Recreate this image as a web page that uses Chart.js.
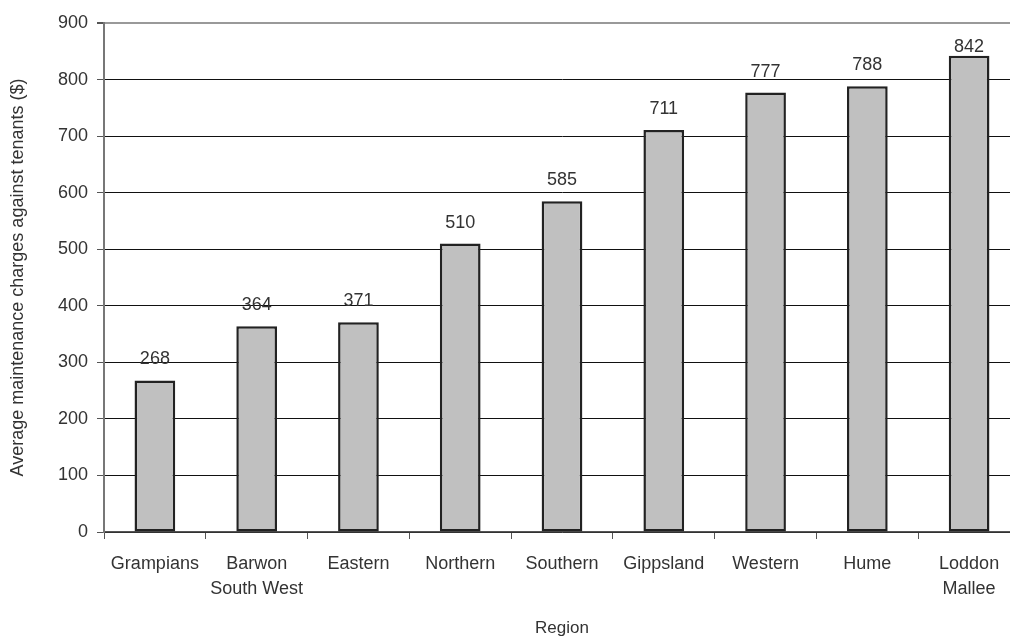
<!DOCTYPE html>
<html>
<head>
<meta charset="utf-8">
<script src="https://cdn.jsdelivr.net/npm/chart.js@4/dist/chart.umd.min.js"></script>
<style>
  html, body { margin: 0; padding: 0; background: #fff; overflow: hidden; }
  #wrap { width: 1020px; height: 640px; }
</style>
</head>
<body>
<div id="wrap"><canvas id="c" width="1020" height="640"></canvas></div>
<script>
const categories = ["Grampians", ["Barwon", "South West"], "Eastern", "Northern", "Southern", "Gippsland", "Western", "Hume", ["Loddon", "Mallee"]];
const charges = [268, 364, 371, 510, 585, 711, 777, 788, 842];
const yTicks = [0, 100, 200, 300, 400, 500, 600, 700, 800, 900];
const yTitle = "Average maintenance charges against tenants ($)";
const xTitle = "Region";

const FONT = "'Liberation Sans', Arial, sans-serif";
const TEXT = '#333333';

const valueLabels = {
  id: 'valueLabels',
  afterDatasetsDraw(chart) {
    const ctx = chart.ctx;
    const meta = chart.getDatasetMeta(0);
    const minBaseline = chart.chartArea.top + 29;
    ctx.save();
    ctx.font = '18px ' + FONT;
    ctx.fillStyle = TEXT;
    ctx.textAlign = 'center';
    ctx.textBaseline = 'alphabetic';
    meta.data.forEach((bar, i) => {
      const yb = Math.max(bar.y - 16, minBaseline);
      ctx.fillText(String(charges[i]), bar.x, yb);
    });
    ctx.restore();
  }
};

new Chart(document.getElementById('c'), {
  type: 'bar',
  data: {
    labels: categories,
    datasets: [{
      data: charges,
      backgroundColor: '#c0c0c0',
      borderColor: '#222222',
      borderWidth: 2.5,
      borderSkipped: false,
      barPercentage: 0.4,
      categoryPercentage: 1.0
    }]
  },
  options: {
    responsive: false,
    animation: false,
    layout: { padding: { top: 23, right: 0, left: 0, bottom: 0 } },
    plugins: {
      legend: { display: false },
      tooltip: { enabled: false }
    },
    scales: {
      x: {
        afterFit(scale) { scale.height = 108; },
        grid: {
          display: true,
          offset: true,
          drawOnChartArea: false,
          drawTicks: true,
          tickLength: 7,
          color: '#555555',
          lineWidth: 1
        },
        border: { display: true, color: '#555555', width: 1.5 },
        ticks: {
          color: TEXT,
          font: { family: FONT, size: 18, lineHeight: 1.42 },
          padding: 12,
          maxRotation: 0,
          autoSkip: false
        },
        title: {
          display: true,
          text: xTitle,
          color: TEXT,
          font: { family: FONT, size: 17 },
          padding: { top: 0, bottom: 1 }
        }
      },
      y: {
        min: 0,
        max: 900,
        afterFit(scale) { scale.width = 104; },
        afterBuildTicks(scale) { scale.ticks = yTicks.map(v => ({ value: v })); },
        grid: {
          color: (c) => c.tick && c.tick.value === 900 ? '#999999' : '#111111',
          lineWidth: (c) => c.tick && c.tick.value === 900 ? 2 : 1,
          tickLength: 7,
          tickColor: '#555555'
        },
        border: { display: true, color: '#777777', width: 2 },
        ticks: {
          color: TEXT,
          font: { family: FONT, size: 18 },
          padding: 9
        },
        title: {
          display: true,
          text: yTitle,
          color: TEXT,
          font: { family: FONT, size: 18 },
          padding: { top: 7, bottom: 0 }
        }
      }
    }
  },
  plugins: [valueLabels]
});
</script>
</body>
</html>
